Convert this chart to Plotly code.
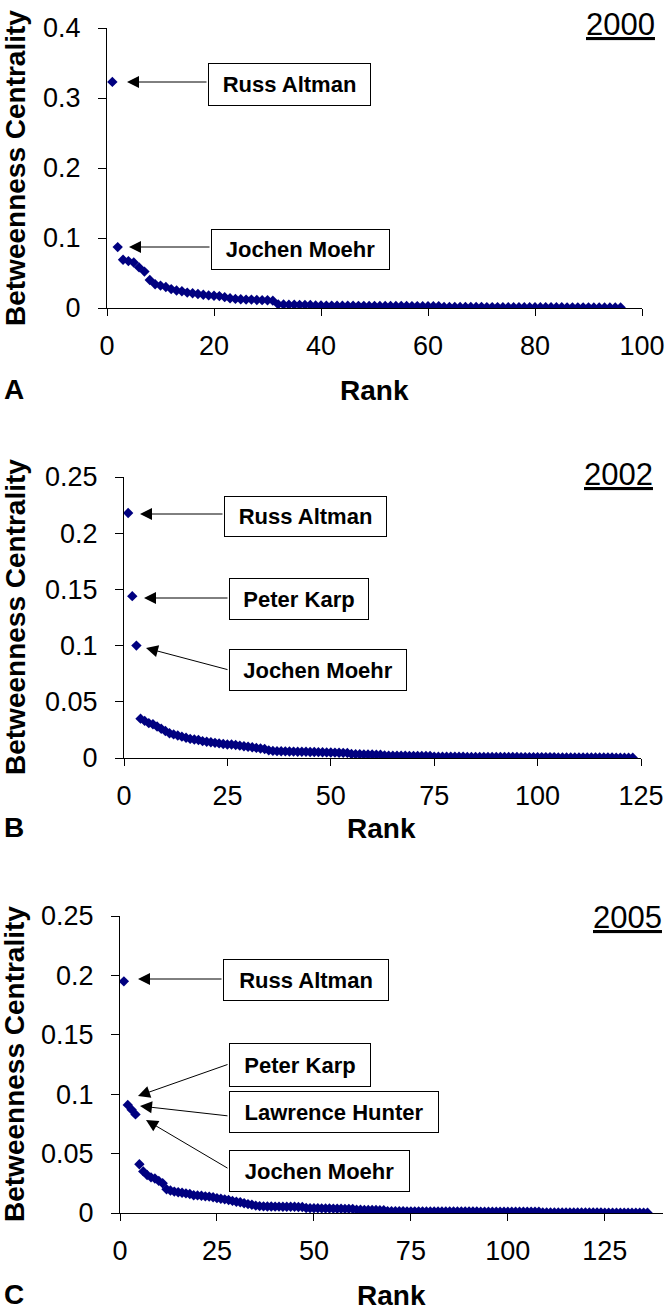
import plotly.graph_objects as go

# ---------------- data ----------------
vals_2000 = [
    0.323, 0.087, 0.069, 0.067, 0.065, 0.058, 0.052, 0.040, 0.034, 0.032,
    0.030, 0.027, 0.025, 0.024, 0.022, 0.021, 0.020, 0.019, 0.018, 0.0175,
    0.017, 0.0155, 0.014, 0.013, 0.0125, 0.012, 0.012, 0.0115, 0.0112, 0.011,
    0.0105, 0.0052, 0.0049, 0.0047, 0.0046, 0.0045, 0.0044, 0.0042, 0.0036, 0.0035,
    0.0034, 0.0034, 0.0033, 0.0033, 0.0032, 0.0032, 0.0031, 0.0031, 0.0030, 0.0030,
    0.0030, 0.0029, 0.0029, 0.0028, 0.0028, 0.0028, 0.0027, 0.0027, 0.0026, 0.0026,
    0.0025, 0.0025, 0.0016, 0.0016, 0.0015, 0.0015, 0.0015, 0.0014, 0.0014, 0.0014,
    0.0013, 0.0013, 0.0013, 0.0012, 0.0012, 0.0012, 0.0012, 0.0011, 0.0011, 0.0011,
    0.0011, 0.0010, 0.0010, 0.0010, 0.0010, 0.0009, 0.0009, 0.0009, 0.0009, 0.0009,
    0.0008, 0.0008, 0.0008, 0.0008, 0.0008, 0.0008,
]
vals_2002 = [
    0.218, 0.144, 0.100, 0.035, 0.033, 0.031, 0.030, 0.028, 0.026, 0.024,
    0.022, 0.021, 0.020, 0.019, 0.018, 0.017, 0.0165, 0.016, 0.015, 0.0145,
    0.014, 0.0135, 0.013, 0.0125, 0.012, 0.012, 0.0115, 0.011, 0.0105, 0.010,
    0.0095, 0.009, 0.0085, 0.008, 0.0068, 0.0063, 0.0061, 0.006, 0.0059, 0.0058,
    0.0057, 0.0056, 0.0055, 0.0055, 0.0054, 0.0053, 0.0052, 0.0051, 0.005, 0.0049,
    0.0048, 0.0047, 0.0046, 0.0045, 0.0035, 0.0034, 0.0033, 0.0032, 0.0031, 0.0031,
    0.003, 0.003, 0.0022, 0.0021, 0.0021, 0.002, 0.002, 0.002, 0.0019, 0.0019,
    0.0019, 0.0018, 0.0018, 0.0018, 0.0012, 0.0012, 0.0012, 0.0011, 0.0011, 0.0011,
    0.0011, 0.0011, 0.001, 0.001, 0.001, 0.001, 0.001, 0.001, 0.0009, 0.0009,
    0.0009, 0.0009, 0.0009, 0.0009, 0.0009, 0.0008, 0.0008, 0.0008, 0.0008, 0.0008,
    0.0008, 0.0008, 0.0008, 0.0008, 0.0005, 0.0005, 0.0005, 0.0005, 0.0005, 0.0005,
    0.0004, 0.0004, 0.0004, 0.0004, 0.0004, 0.0004, 0.0004, 0.0004, 0.0003, 0.0003,
    0.0003, 0.0003, 0.0003,
]
vals_2005 = [
    0.195, 0.091, 0.087, 0.083, 0.041, 0.035, 0.032, 0.030, 0.029, 0.027,
    0.025, 0.020, 0.019, 0.018, 0.0175, 0.017, 0.0165, 0.016, 0.015, 0.0148,
    0.0145, 0.014, 0.0138, 0.0132, 0.0125, 0.012, 0.0115, 0.011, 0.0102, 0.0095,
    0.009, 0.0082, 0.0075, 0.007, 0.0062, 0.0058, 0.0056, 0.0055, 0.0055, 0.0054,
    0.0054, 0.0053, 0.0053, 0.0052, 0.0052, 0.0051, 0.005, 0.0042, 0.0041, 0.004,
    0.004, 0.0039, 0.0038, 0.0038, 0.0037, 0.0036, 0.0036, 0.0035, 0.0035, 0.0034,
    0.0028, 0.0027, 0.0026, 0.0026, 0.0025, 0.0025, 0.0024, 0.0023, 0.0016, 0.0015,
    0.0015, 0.0015, 0.0015, 0.0014, 0.0014, 0.0014, 0.0014, 0.0014, 0.0013, 0.0013,
    0.0013, 0.0013, 0.0013, 0.0013, 0.0013, 0.0012, 0.0012, 0.0012, 0.0012, 0.0012,
    0.0012, 0.0012, 0.0011, 0.0011, 0.0011, 0.0011, 0.0011, 0.0011, 0.0011, 0.0011,
    0.001, 0.001, 0.001, 0.001, 0.001, 0.001, 0.001, 0.001, 0.0005, 0.0005,
    0.0005, 0.0005, 0.0005, 0.0005, 0.0004, 0.0004, 0.0004, 0.0004, 0.0004, 0.0004,
    0.0004, 0.0004, 0.0004, 0.0004, 0.0003, 0.0003, 0.0003, 0.0003, 0.0003, 0.0003,
    0.0003, 0.0003, 0.0003, 0.0003, 0.0003, 0.0003,
]
years = ["2000", "2002", "2005"]
panel_letters = ["A", "B", "C"]
x_tickvals = [[0, 20, 40, 60, 80, 100], [0, 25, 50, 75, 100, 125], [0, 25, 50, 75, 100, 125]]
y_tickvals = [[0, 0.1, 0.2, 0.3, 0.4], [0, 0.05, 0.1, 0.15, 0.2, 0.25], [0, 0.05, 0.1, 0.15, 0.2, 0.25]]
y_ticktext = [["0", "0.1", "0.2", "0.3", "0.4"],
              ["0", "0.05", "0.1", "0.15", "0.2", "0.25"],
              ["0", "0.05", "0.1", "0.15", "0.2", "0.25"]]
labels = [["Russ Altman", "Jochen Moehr"],
          ["Russ Altman", "Peter Karp", "Jochen Moehr"],
          ["Russ Altman", "Peter Karp", "Lawrence Hunter", "Jochen Moehr"]]

# ---------------- layout geometry (pixels) ----------------
W, H = 666, 1312
def PX(x):
    return x / W
def PY(y):
    return 1 - y / H

# (left, right, top, bottom) pixel plot areas, and axis ranges
areas = [(107, 642, 28, 308), (124, 641, 477, 758), (120, 663, 916, 1213)]
x_ranges = [[0, 100], [0, 125], [0, 140]]
y_ranges = [[0, 0.4], [0, 0.25], [0, 0.25]]

FONT = "Liberation Sans, Arial, sans-serif"
NAVY = "#000080"

series = [vals_2000, vals_2002, vals_2005]
fig = go.Figure()
layout = {}
for i, vals in enumerate(series):
    sfx = "" if i == 0 else str(i + 1)
    ranks = list(range(1, len(vals) + 1))
    fig.add_trace(go.Scatter(
        x=ranks, y=vals, mode="markers",
        marker=dict(symbol="diamond", size=8, color=NAVY, line=dict(width=0)),
        xaxis="x" + sfx, yaxis="y" + sfx, showlegend=False, hoverinfo="skip",
    ))
    l, r, t, b = areas[i]
    layout["xaxis" + sfx] = dict(
        domain=[PX(l), PX(r)], range=x_ranges[i], anchor="y" + sfx,
        tickmode="array", tickvals=x_tickvals[i], automargin=False,
        showline=True, linecolor="black", linewidth=1,
        ticks="outside", ticklen=7, tickcolor="black", tickwidth=1,
        showgrid=False, zeroline=False,
        tickfont=dict(family=FONT, size=27, color="black"),
        ticklabelstandoff=7,
    )
    layout["yaxis" + sfx] = dict(
        domain=[PY(b), PY(t)], range=y_ranges[i], anchor="x" + sfx,
        tickmode="array", tickvals=y_tickvals[i], ticktext=y_ticktext[i],
        automargin=False,
        showline=True, linecolor="black", linewidth=1,
        ticks="outside", ticklen=8, tickcolor="black", tickwidth=1,
        showgrid=False, zeroline=False,
        tickfont=dict(family=FONT, size=27, color="black"),
        ticklabelstandoff=12,
    )

annotations = []

def text_ann(x, y, text, size, bold=False, angle=0):
    annotations.append(dict(
        x=PX(x), y=PY(y), xref="paper", yref="paper", showarrow=False,
        text=("<b>%s</b>" % text) if bold else text, textangle=angle,
        font=dict(family=FONT, size=size, color="black"),
        xanchor="center", yanchor="middle",
    ))

# axis titles, panel letters, year labels
ytitle_pos = [(15, 168), (16, 617), (14, 1064)]
rank_pos = [(374, 390), (382, 828), (391, 1295)]
letter_pos = [(14, 389), (14, 827), (14, 1294)]
year_pos = [(620, 25), (618, 474), (627, 917)]
for i in range(3):
    text_ann(*ytitle_pos[i], "Betweenness Centrality", 28, bold=True, angle=-90)
    text_ann(*rank_pos[i], "Rank", 28, bold=True)
    text_ann(*letter_pos[i], panel_letters[i], 28, bold=True)
    text_ann(*year_pos[i], "<u>%s</u>" % years[i], 31)

# label boxes: (left, right, top, bottom) in pixels
boxes = [
    [(208, 371, 63, 106), (211, 390, 229, 270)],
    [(224, 387, 496, 537), (229, 369, 578, 620), (229, 407, 649, 691)],
    [(223, 389, 959, 1001), (229, 371, 1043, 1087), (229, 439, 1091, 1133), (229, 410, 1150, 1192)],
]
# arrows: (tip_x, tip_y, tail_x, tail_y) in pixels
arrows = [
    [(127, 82, 208, 82), (129, 247, 211, 247)],
    [(140, 514, 224, 514), (144, 598, 229, 598), (146, 648, 229, 670)],
    [(138, 979, 223, 979), (138, 1096, 229, 1064), (140, 1106, 229, 1116), (146, 1120, 229, 1169)],
]
for i in range(3):
    for lab, (l, r, t, b) in zip(labels[i], boxes[i]):
        annotations.append(dict(
            x=PX((l + r) / 2), y=PY((t + b) / 2), xref="paper", yref="paper",
            showarrow=False, text="<b>%s</b>" % lab,
            font=dict(family=FONT, size=22, color="black"),
            width=r - l - 2, height=b - t - 2, borderpad=0,
            bordercolor="black", borderwidth=1, bgcolor="white",
            xanchor="center", yanchor="middle", align="center", valign="middle",
        ))
    for (tx, ty, sx, sy) in arrows[i]:
        annotations.append(dict(
            x=PX(tx), y=PY(ty), xref="paper", yref="paper", text="",
            showarrow=True, ax=sx - tx, ay=sy - ty, axref="pixel", ayref="pixel",
            arrowhead=2, arrowsize=2.4, arrowwidth=1, arrowcolor="black", standoff=0,
        ))

fig.update_layout(
    width=W, height=H, autosize=False,
    margin=dict(l=0, r=0, t=0, b=0, pad=0, autoexpand=False),
    paper_bgcolor="white", plot_bgcolor="white",
    annotations=annotations, showlegend=False,
    font=dict(family=FONT, color="black"),
    **layout,
)

fig.write_html(
    "out.html",
    config={"displayModeBar": False, "staticPlot": True},
    post_script=(
        "document.body.style.margin='0px';"
        "document.body.style.padding='0px';"
        "document.documentElement.style.overflow='hidden';"
        "document.body.style.overflow='hidden';"
    ),
)
